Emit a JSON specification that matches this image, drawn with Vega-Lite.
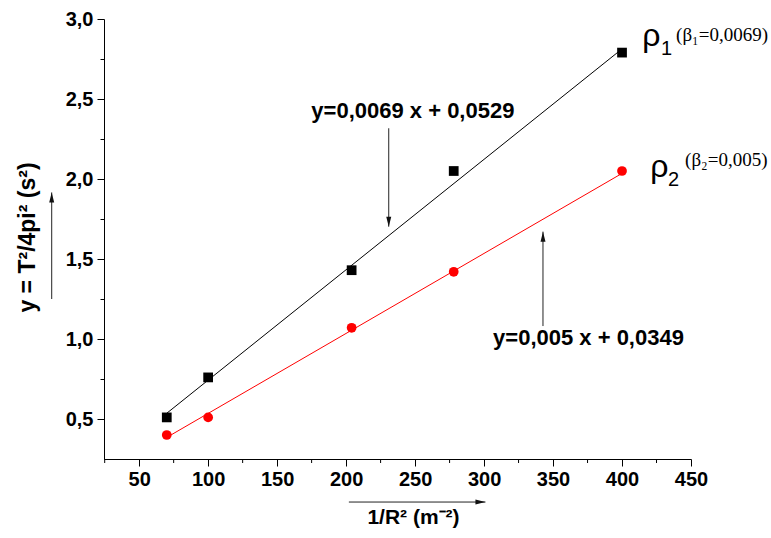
{
  "$schema": "https://vega.github.io/schema/vega-lite/v6.json",
  "width": 587,
  "height": 440,
  "autosize": {"type": "none"},
  "padding": {"left": 104, "top": 19, "right": 80, "bottom": 79},
  "background": "white",
  "config": {
    "view": {"stroke": null},
    "axis": {
      "grid": false,
      "domainColor": "black",
      "tickColor": "black",
      "labelColor": "black",
      "titleColor": "black",
      "labelFont": "Liberation Sans",
      "titleFont": "Liberation Sans",
      "labelFontWeight": "bold",
      "titleFontWeight": "bold",
      "labelFontSize": 20,
      "titleFontSize": 21,
      "domainWidth": 1,
      "tickWidth": 1
    }
  },
  "datasets": {
    "points": [
      {"series": "rho1", "x": 70, "y": 0.51},
      {"series": "rho1", "x": 100, "y": 0.76},
      {"series": "rho1", "x": 204, "y": 1.43},
      {"series": "rho1", "x": 278, "y": 2.05},
      {"series": "rho1", "x": 400, "y": 2.79},
      {"series": "rho2", "x": 70, "y": 0.40},
      {"series": "rho2", "x": 100, "y": 0.51},
      {"series": "rho2", "x": 204, "y": 1.07},
      {"series": "rho2", "x": 278, "y": 1.42},
      {"series": "rho2", "x": 400, "y": 2.05}
    ],
    "fits": [
      {"series": "rho1", "x": 70, "y": 0.536},
      {"series": "rho1", "x": 400, "y": 2.813},
      {"series": "rho2", "x": 70, "y": 0.385},
      {"series": "rho2", "x": 400, "y": 2.035}
    ],
    "minorX": [
      {"x": 25}, {"x": 75}, {"x": 125}, {"x": 175}, {"x": 225},
      {"x": 275}, {"x": 325}, {"x": 375}, {"x": 425}
    ],
    "arrows": [
      {"x": 230.9, "y": 2.317, "x2": 230.9, "y2": 1.702},
      {"x": 342.7, "y": 1.081, "x2": 342.7, "y2": 1.671},
      {"x": -13.4, "y": 1.25, "x2": -13.4, "y2": 1.916},
      {"x": 202, "y": -0.019, "x2": 301, "y2": -0.019}
    ],
    "headsDown": [{"x": 230.9, "y": 1.702}],
    "headsUp": [{"x": 342.7, "y": 1.671}, {"x": -13.4, "y": 1.916}],
    "headsRight": [{"x": 301, "y": -0.019}],
    "equations": [
      {"x": 248.4, "y": 2.38, "label": "y=0,0069 x + 0,0529"},
      {"x": 375.7, "y": 0.9625, "label": "y=0,005 x + 0,0349"}
    ],
    "rhos": [
      {"x": 414.6, "y": 2.83, "label": "ρ"},
      {"x": 420.4, "y": 2.01, "label": "ρ"}
    ],
    "subs": [
      {"x": 428.3, "y": 2.775, "label": "1"},
      {"x": 433.4, "y": 1.956, "label": "2"}
    ],
    "betas": [
      {"x": 439.2, "y": 2.8625, "label": "(β₁=0,0069)"},
      {"x": 445.7, "y": 2.081, "label": "(β₂=0,005)"}
    ]
  },
  "layer": [
    {
      "data": {"name": "fits"},
      "mark": {"type": "line", "strokeWidth": 1},
      "encoding": {
        "x": {
          "field": "x", "type": "quantitative",
          "scale": {"domain": [24.5, 450], "nice": false, "zero": false},
          "axis": {
            "values": [50, 100, 150, 200, 250, 300, 350, 400, 450],
            "format": "d",
            "tickSize": 7,
            "labelPadding": 3,
            "labelFlush": false,
            "labelOverlap": false,
            "title": "1/R² (m⁻²)",
            "titleX": 309,
            "titleY": 64,
            "titleAlign": "center",
            "titleBaseline": "alphabetic"
          }
        },
        "y": {
          "field": "y", "type": "quantitative",
          "scale": {"domain": [0.25, 3.0], "nice": false, "zero": false},
          "axis": {
            "values": [0.5, 0.75, 1.0, 1.25, 1.5, 1.75, 2.0, 2.25, 2.5, 2.75, 3.0],
            "labelExpr": "abs(datum.value*2 - round(datum.value*2)) < 0.001 ? replace(format(datum.value, '.1f'), '.', ',') : ''",
            "tickSize": {"condition": {"test": "abs(datum.value*2 - round(datum.value*2)) < 0.001", "value": 7}, "value": 4},
            "labelPadding": 4,
            "labelFlush": false,
            "labelOverlap": false,
            "title": "y = T²/4pi²  (s²)",
            "titleFontSize": 23,
            "titleAngle": -90,
            "titleX": -70,
            "titleY": 218,
            "titleAlign": "center",
            "titleBaseline": "alphabetic"
          }
        },
        "color": {"field": "series", "type": "nominal", "scale": {"domain": ["rho1", "rho2"], "range": ["#000000", "#ff0000"]}, "legend": null}
      }
    },
    {
      "data": {"name": "minorX"},
      "mark": {"type": "rule", "color": "black", "strokeWidth": 1},
      "encoding": {
        "x": {"field": "x", "type": "quantitative"},
        "y": {"datum": 0.25},
        "y2": {"datum": 0.225}
      }
    },
    {
      "data": {"name": "points"},
      "mark": {"type": "point", "filled": true, "opacity": 1, "size": 95},
      "encoding": {
        "x": {"field": "x", "type": "quantitative"},
        "y": {"field": "y", "type": "quantitative"},
        "color": {"field": "series", "type": "nominal", "legend": null},
        "shape": {"field": "series", "type": "nominal", "scale": {"domain": ["rho1", "rho2"], "range": ["square", "circle"]}, "legend": null}
      }
    },
    {
      "data": {"name": "arrows"},
      "mark": {"type": "rule", "color": "#222222", "strokeWidth": 1},
      "encoding": {
        "x": {"field": "x", "type": "quantitative"},
        "y": {"field": "y", "type": "quantitative"},
        "x2": {"field": "x2"},
        "y2": {"field": "y2"}
      }
    },
    {
      "data": {"name": "headsDown"},
      "mark": {"type": "point", "filled": true, "opacity": 1, "color": "#111111", "size": 100, "shape": "M0,0L-0.5,-2L0.5,-2Z"},
      "encoding": {
        "x": {"field": "x", "type": "quantitative"},
        "y": {"field": "y", "type": "quantitative"}
      }
    },
    {
      "data": {"name": "headsUp"},
      "mark": {"type": "point", "filled": true, "opacity": 1, "color": "#111111", "size": 100, "shape": "M0,0L-0.5,2L0.5,2Z"},
      "encoding": {
        "x": {"field": "x", "type": "quantitative"},
        "y": {"field": "y", "type": "quantitative"}
      }
    },
    {
      "data": {"name": "headsRight"},
      "mark": {"type": "point", "filled": true, "opacity": 1, "color": "#111111", "size": 100, "shape": "M0,0L-2,-0.5L-2,0.5Z"},
      "encoding": {
        "x": {"field": "x", "type": "quantitative"},
        "y": {"field": "y", "type": "quantitative"}
      }
    },
    {
      "data": {"name": "equations"},
      "mark": {"type": "text", "font": "Liberation Sans", "fontWeight": "bold", "fontSize": 22, "align": "center", "baseline": "alphabetic", "color": "black"},
      "encoding": {
        "x": {"field": "x", "type": "quantitative"},
        "y": {"field": "y", "type": "quantitative"},
        "text": {"field": "label"}
      }
    },
    {
      "data": {"name": "rhos"},
      "mark": {"type": "text", "font": "Liberation Sans", "fontSize": 32, "align": "left", "baseline": "alphabetic", "color": "black"},
      "encoding": {
        "x": {"field": "x", "type": "quantitative"},
        "y": {"field": "y", "type": "quantitative"},
        "text": {"field": "label"}
      }
    },
    {
      "data": {"name": "subs"},
      "mark": {"type": "text", "font": "Liberation Sans", "fontSize": 20, "align": "left", "baseline": "alphabetic", "color": "black"},
      "encoding": {
        "x": {"field": "x", "type": "quantitative"},
        "y": {"field": "y", "type": "quantitative"},
        "text": {"field": "label"}
      }
    },
    {
      "data": {"name": "betas"},
      "mark": {"type": "text", "font": "Liberation Serif", "fontSize": 19, "align": "left", "baseline": "alphabetic", "color": "black"},
      "encoding": {
        "x": {"field": "x", "type": "quantitative"},
        "y": {"field": "y", "type": "quantitative"},
        "text": {"field": "label"}
      }
    }
  ]
}
